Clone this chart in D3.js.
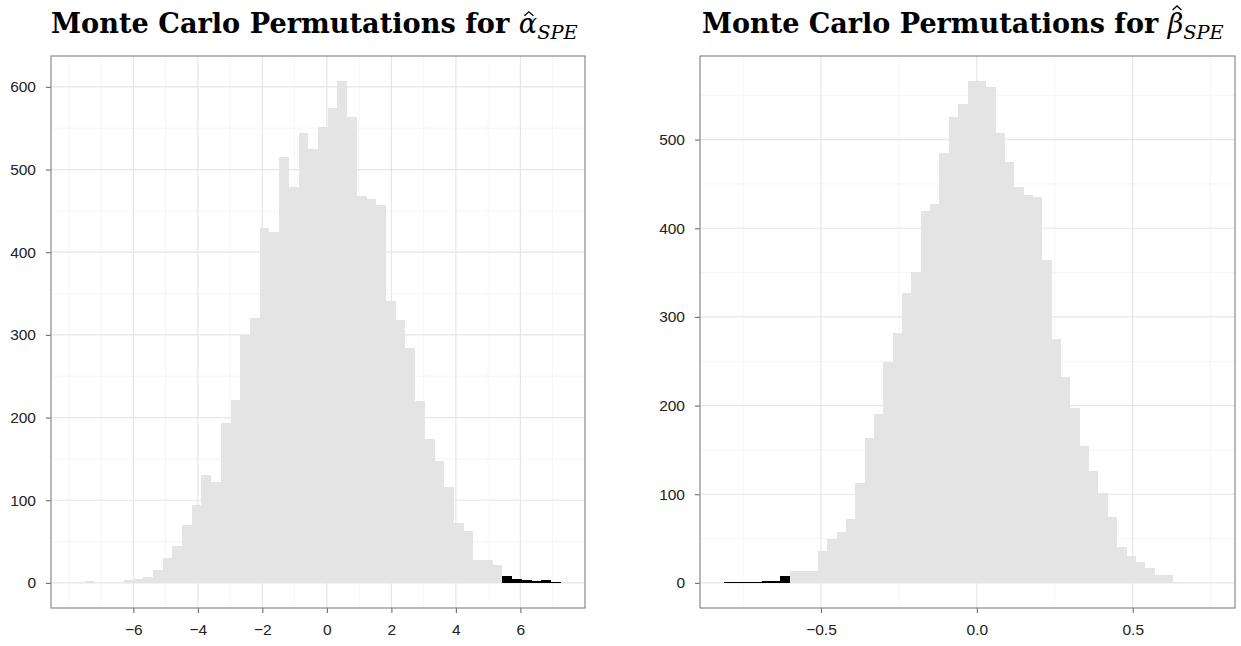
<!DOCTYPE html>
<html>
<head>
<meta charset="utf-8">
<script src="https://cdn.jsdelivr.net/npm/d3@7"></script>
<style>
  body { margin: 0; background: #fff; }
  svg { display: block; }
</style>
</head>
<body>
<div id="chart"></div>
<script>
var svgWidth = 1241;
var svgHeight = 646;

// alpha: histogram counts per bin (bins start at alphaStart, width alphaBinWidth)
var alphaStart = -7.8;
var alphaBinWidth = 0.301;
var alphaCounts = [0, 2, 0, 0, 0, 4, 5, 7, 16, 30, 45, 70, 94, 131, 122, 194, 221, 300, 321, 429,
  424, 515, 479, 544, 525, 551, 575, 607, 564, 468, 464, 457, 341, 318, 284, 220, 174, 147, 116, 72,
  63, 28, 28, 22, 8, 5, 4, 2, 3, 1];
var alphaTailFrom = 44;   // bins from here on are the observed tail (black)
var alphaXTicks = [-6, -4, -2, 0, 2, 4, 6];
var alphaXMinor = [-8, -7, -5, -3, -1, 1, 3, 5, 7];
var alphaYTicks = [0, 100, 200, 300, 400, 500, 600];
var alphaYMinor = [50, 150, 250, 350, 450, 550];

// beta
var betaStart = -0.81;
var betaBinWidth = 0.03;
var betaCounts = [1, 1, 1, 1, 2, 2, 8, 13, 13, 13, 36, 49, 57, 72, 113, 163, 191, 249, 282, 327,
  351, 420, 427, 485, 525, 540, 566, 566, 559, 508, 475, 446, 438, 435, 364, 275, 232, 197, 154, 126,
  101, 74, 41, 30, 24, 17, 9, 9, 1, 0, 0, 0];
var betaTailTo = 7;       // bins before this index are the observed tail (black)
var betaXTicks = [-0.5, 0, 0.5];
var betaXMinor = [-0.75, -0.25, 0.25, 0.75];
var betaYTicks = [0, 100, 200, 300, 400, 500];
var betaYMinor = [50, 150, 250, 350, 450, 550];

var titleText = "Monte Carlo Permutations for ";

var svg = d3.select("#chart")
  .append("svg")
  .attr("width", svgWidth)
  .attr("height", svgHeight);

function drawPanel(p) {
  var bins = p.counts.map(function(c, i) {
    return { x0: p.start + i * p.width, x1: p.start + (i + 1) * p.width, n: c, tail: p.isTail(i) };
  });
  var xmin = bins[0].x0, xmax = bins[bins.length - 1].x1;
  var xpad = 0.05 * (xmax - xmin);
  var ymax = d3.max(p.counts);

  var x = d3.scaleLinear().domain([xmin - xpad, xmax + xpad]).range([p.left, p.right]);
  var y = d3.scaleLinear().domain([-0.05 * ymax, 1.05 * ymax]).range([p.bottom, p.top]);

  var g = svg.append("g");

  // grid
  var grid = g.append("g");
  grid.selectAll(".vminor").data(p.xMinor).enter().append("line")
    .attr("x1", d => x(d)).attr("x2", d => x(d))
    .attr("y1", p.top).attr("y2", p.bottom)
    .attr("stroke", "#f3f3f3").attr("stroke-width", 0.8);
  grid.selectAll(".hminor").data(p.yMinor).enter().append("line")
    .attr("x1", p.left).attr("x2", p.right)
    .attr("y1", d => y(d)).attr("y2", d => y(d))
    .attr("stroke", "#f3f3f3").attr("stroke-width", 0.8);
  grid.selectAll(".vmajor").data(p.xTicks).enter().append("line")
    .attr("x1", d => x(d)).attr("x2", d => x(d))
    .attr("y1", p.top).attr("y2", p.bottom)
    .attr("stroke", "#e6e6e6").attr("stroke-width", 1.2);
  grid.selectAll(".hmajor").data(p.yTicks).enter().append("line")
    .attr("x1", p.left).attr("x2", p.right)
    .attr("y1", d => y(d)).attr("y2", d => y(d))
    .attr("stroke", "#e6e6e6").attr("stroke-width", 1.2);

  // bars
  g.append("g").selectAll("rect")
    .data(bins.filter(d => d.n > 0))
    .enter()
    .append("rect")
    .attr("x", d => x(d.x0))
    .attr("width", d => x(d.x1) - x(d.x0))
    .attr("y", d => y(d.n))
    .attr("height", d => y(0) - y(d.n))
    .attr("fill", d => d.tail ? "#000000" : "#e4e4e4")
    .attr("shape-rendering", "crispEdges");

  // axes
  var xAxis = g.append("g")
    .attr("transform", `translate(0, ${p.bottom})`)
    .call(d3.axisBottom(x).tickValues(p.xTicks).tickFormat(p.xFormat).tickSize(5).tickPadding(11));
  var yAxis = g.append("g")
    .attr("transform", `translate(${p.left}, 0)`)
    .call(d3.axisLeft(y).tickValues(p.yTicks).tickFormat(d3.format("d")).tickSize(5).tickPadding(10));
  [xAxis, yAxis].forEach(function(a) {
    a.select(".domain").remove();
    a.selectAll("line").attr("stroke", "#6e6e6e").attr("stroke-width", 1.1);
    a.selectAll("text")
      .attr("fill", "#222222")
      .style("font-family", "'Liberation Sans', Arial, sans-serif")
      .style("font-size", p.labelSize + "px");
  });

  // frame
  g.append("rect")
    .attr("x", p.left).attr("y", p.top)
    .attr("width", p.right - p.left).attr("height", p.bottom - p.top)
    .attr("fill", "none").attr("stroke", "#8a8a8a").attr("stroke-width", 1.2);

  // title
  var title = svg.append("text")
    .attr("x", p.titleX0)
    .attr("y", 33)
    .style("font-family", "'DejaVu Serif', serif")
    .style("font-size", "21px")
    .attr("fill", "#000");
  title.append("tspan").style("font-weight", "bold").text(titleText);
  title.append("tspan").style("font-style", "italic").text(p.symbol);
  var sub = title.append("tspan").style("font-style", "italic").style("font-size", "15px")
    .attr("dy", 6).text("SPE");
  var w = title.node().getComputedTextLength();
  var scale = (p.titleX1 - p.titleX0) / w;
  var size = 21 * scale;
  title.style("font-size", size + "px");
  sub.style("font-size", (15 * scale) + "px");

  // hat over the symbol
  var box = title.node().getExtentOfChar(titleText.length);
  var cx = box.x + box.width * p.hatShift;
  var top = 33 - p.hatRise * size;
  svg.append("path")
    .attr("d", `M${cx - 4.5},${top + 4} L${cx},${top} L${cx + 4.5},${top + 4}`)
    .attr("fill", "none").attr("stroke", "#000").attr("stroke-width", 1.3);
}

drawPanel({
  left: 51, right: 585, top: 56, bottom: 608,
  start: alphaStart, width: alphaBinWidth, counts: alphaCounts,
  isTail: i => i >= alphaTailFrom,
  xTicks: alphaXTicks, xMinor: alphaXMinor, yTicks: alphaYTicks, yMinor: alphaYMinor,
  xFormat: d3.format("d"), labelSize: 15.5,
  symbol: "\u03b1", titleX0: 51, titleX1: 578, hatShift: 0.55, hatRise: 0.78
});

drawPanel({
  left: 700, right: 1235, top: 56, bottom: 608,
  start: betaStart, width: betaBinWidth, counts: betaCounts,
  isTail: i => i < betaTailTo,
  xTicks: betaXTicks, xMinor: betaXMinor, yTicks: betaYTicks, yMinor: betaYMinor,
  xFormat: d3.format(".1f"), labelSize: 15.5,
  symbol: "\u03b2", titleX0: 702, titleX1: 1224, hatShift: 0.6, hatRise: 1.0
});
</script>
</body>
</html>
